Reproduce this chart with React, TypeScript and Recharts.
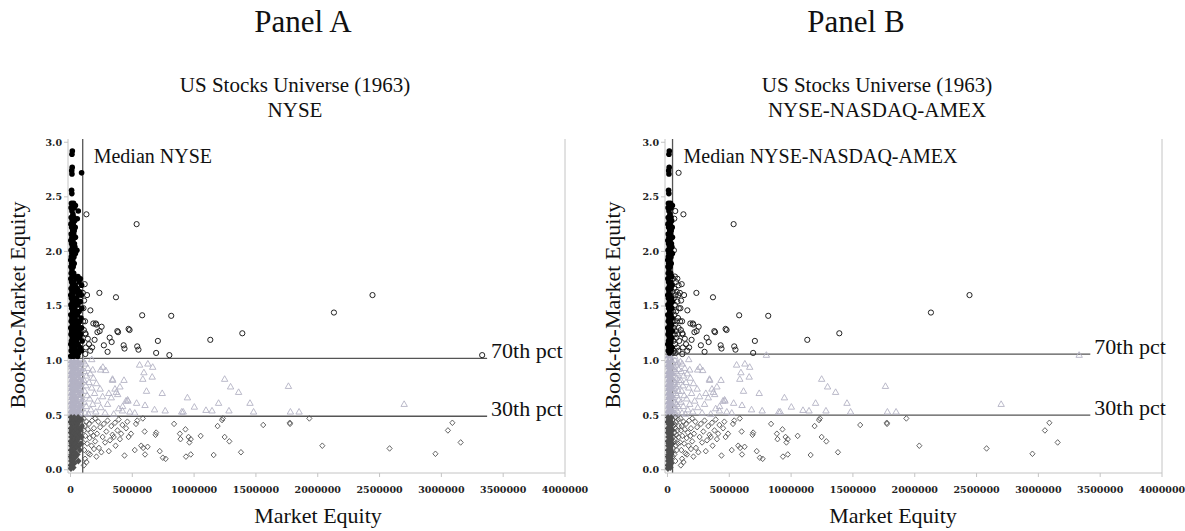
import React from 'react';
import { ScatterChart, Scatter, XAxis, YAxis, ReferenceLine } from 'recharts';

// panel texts
const panelTitles = ['Panel A', 'Panel B'];
const universeTitle = 'US Stocks Universe (1963)';
const exchanges = ['NYSE', 'NYSE-NASDAQ-AMEX'];

// breakpoints
const medians = [99000, 41000];
const pct30 = [0.49, 0.5];
const pct70 = [1.02, 1.06];
const lineEnds = [3370000, 3420000];

const xTicks = [0, 500000, 1000000, 1500000, 2000000, 2500000, 3000000, 3500000, 4000000];
const yTicks = [0, 0.5, 1, 1.5, 2, 2.5, 3];

// [market equity, book-to-market]
const clusterHigh = [
  [15000, 2.92], [12000, 2.89], [14000, 2.77], [10000, 2.74], [12000, 2.71], [90000, 2.72], [9000, 2.56], [11000, 2.53],
  [8000, 2.44], [25000, 2.44], [15000, 2.42], [40000, 2.42], [5000, 2.4], [30000, 2.4], [63000, 2.37], [12000, 2.37],
  [20000, 2.34], [6000, 2.31], [28000, 2.31], [55000, 2.3], [14000, 2.28], [34000, 2.28], [4000, 2.25], [22000, 2.25],
  [10000, 2.22], [38000, 2.22], [18000, 2.19], [30000, 2.19], [6000, 2.16], [26000, 2.16], [12000, 2.13], [40000, 2.13],
  [3000, 2.1], [20000, 2.1], [9000, 2.07], [32000, 2.07], [15000, 2.04], [36000, 2.04], [5000, 2.01], [24000, 2.01], [52000, 2.01],
  [11000, 1.98], [40000, 1.98], [7000, 1.95], [28000, 1.95], [2000, 1.92], [18000, 1.92], [10000, 1.89], [30000, 1.89],
  [4000, 1.86], [22000, 1.86], [12000, 1.83], [6000, 1.8], [26000, 1.8], [14000, 1.77], [34000, 1.77], [60000, 1.77],
  [3000, 1.75], [45000, 1.75], [80000, 1.75], [9000, 1.72], [25000, 1.72], [70000, 1.72], [16000, 1.69], [38000, 1.69], [90000, 1.69],
  [5000, 1.66], [28000, 1.66], [55000, 1.66], [12000, 1.63], [42000, 1.63], [75000, 1.63], [2000, 1.6], [20000, 1.6], [65000, 1.6], [88000, 1.6],
  [8000, 1.57], [33000, 1.57], [50000, 1.57], [15000, 1.54], [40000, 1.54], [80000, 1.54], [4000, 1.51], [25000, 1.51], [60000, 1.51],
  [10000, 1.48], [35000, 1.48], [92000, 1.48], [18000, 1.45], [45000, 1.45], [70000, 1.45], [3000, 1.42], [28000, 1.42], [56000, 1.42],
  [12000, 1.39], [38000, 1.39], [85000, 1.39], [6000, 1.36], [22000, 1.36], [48000, 1.36], [75000, 1.36], [16000, 1.33], [32000, 1.33], [62000, 1.33],
  [2000, 1.3], [26000, 1.3], [52000, 1.3], [90000, 1.3], [10000, 1.27], [40000, 1.27], [68000, 1.27], [5000, 1.24], [20000, 1.24], [58000, 1.24], [82000, 1.24],
  [14000, 1.21], [34000, 1.21], [72000, 1.21], [8000, 1.18], [28000, 1.18], [48000, 1.18], [95000, 1.18], [3000, 1.15], [22000, 1.15], [62000, 1.15],
  [12000, 1.12], [38000, 1.12], [78000, 1.12], [6000, 1.09], [30000, 1.09], [52000, 1.09], [88000, 1.09], [16000, 1.07], [44000, 1.07], [66000, 1.07],
  [2000, 1.04], [24000, 1.04], [58000, 1.04],
];

const clusterMid = [
  [4000, 1.0], [30000, 1.0], [60000, 1.0], [12000, 0.98], [45000, 0.98], [85000, 0.98], [2000, 0.96], [22000, 0.96], [70000, 0.96],
  [8000, 0.94], [36000, 0.94], [55000, 0.94], [16000, 0.92], [50000, 0.92], [90000, 0.92], [5000, 0.9], [28000, 0.9], [65000, 0.9],
  [11000, 0.88], [40000, 0.88], [80000, 0.88], [3000, 0.86], [20000, 0.86], [58000, 0.86], [14000, 0.84], [34000, 0.84], [75000, 0.84],
  [7000, 0.82], [46000, 0.82], [92000, 0.82], [18000, 0.8], [30000, 0.8], [62000, 0.8], [2000, 0.78], [24000, 0.78], [52000, 0.78], [84000, 0.78],
  [10000, 0.76], [38000, 0.76], [70000, 0.76], [6000, 0.74], [28000, 0.74], [56000, 0.74], [15000, 0.72], [44000, 0.72], [88000, 0.72],
  [4000, 0.7], [22000, 0.7], [66000, 0.7], [12000, 0.68], [36000, 0.68], [78000, 0.68], [8000, 0.66], [30000, 0.66], [50000, 0.66],
  [17000, 0.64], [42000, 0.64], [90000, 0.64], [3000, 0.62], [26000, 0.62], [60000, 0.62], [11000, 0.6], [34000, 0.6], [74000, 0.6],
  [6000, 0.58], [48000, 0.58], [86000, 0.58], [14000, 0.56], [28000, 0.56], [64000, 0.56], [2000, 0.54], [38000, 0.54], [80000, 0.54],
  [9000, 0.52], [24000, 0.52], [54000, 0.52], [16000, 0.505], [42000, 0.505], [70000, 0.505],
];

const clusterLow = [
  [5000, 0.48], [30000, 0.48], [62000, 0.48], [13000, 0.46], [44000, 0.46], [86000, 0.46], [2000, 0.44], [24000, 0.44], [70000, 0.44],
  [9000, 0.42], [36000, 0.42], [55000, 0.42], [16000, 0.4], [48000, 0.4], [92000, 0.4], [4000, 0.38], [28000, 0.38], [66000, 0.38],
  [11000, 0.36], [40000, 0.36], [80000, 0.36], [3000, 0.34], [20000, 0.34], [58000, 0.34], [14000, 0.32], [34000, 0.32], [74000, 0.32],
  [7000, 0.3], [46000, 0.3], [90000, 0.3], [18000, 0.28], [30000, 0.28], [60000, 0.28], [2000, 0.26], [24000, 0.26], [52000, 0.26],
  [10000, 0.24], [38000, 0.24], [84000, 0.24], [6000, 0.22], [28000, 0.22], [68000, 0.22], [15000, 0.2], [44000, 0.2],
  [4000, 0.18], [22000, 0.18], [76000, 0.18], [12000, 0.16], [36000, 0.16], [8000, 0.14], [30000, 0.14], [56000, 0.14],
  [3000, 0.12], [18000, 0.12], [42000, 0.12], [10000, 0.1], [26000, 0.1], [5000, 0.08], [20000, 0.08], [64000, 0.08],
  [14000, 0.06], [32000, 0.06], [2000, 0.04], [12000, 0.04], [8000, 0.02], [24000, 0.02], [4000, 0.01],
];

const spreadHigh = [
  [129000, 2.34], [535000, 2.25], [115000, 1.7], [134000, 1.6], [234000, 1.62], [368000, 1.58], [161000, 1.46], [580000, 1.415],
  [815000, 1.41], [1390000, 1.25], [1131000, 1.19], [707000, 1.18], [185000, 1.34], [205000, 1.34], [252000, 1.31], [236000, 1.27],
  [379000, 1.27], [470000, 1.29], [118000, 1.36], [120000, 1.25], [317000, 1.21], [333000, 1.17], [175000, 1.12], [430000, 1.14],
  [437000, 1.11], [540000, 1.13], [550000, 1.1], [123000, 1.24], [218000, 1.26], [385000, 1.26], [478000, 1.28], [693000, 1.07],
  [800000, 1.05], [120000, 1.06], [125000, 1.12], [2131000, 1.44], [2443000, 1.6], [3330000, 1.05], [102000, 1.36], [209000, 1.33],
  [105000, 1.48], [110000, 1.55], [100000, 1.62], [108000, 1.28], [140000, 1.2], [150000, 1.15], [160000, 1.09], [195000, 1.19],
  [270000, 1.14], [300000, 1.08],
];

const spreadMid = [
  [105000, 0.99], [120000, 0.97], [140000, 0.93], [112000, 0.9], [160000, 0.88], [130000, 0.86], [185000, 0.84], [108000, 0.82],
  [150000, 0.8], [210000, 0.79], [125000, 0.77], [172000, 0.75], [240000, 0.74], [115000, 0.72], [195000, 0.7], [135000, 0.68],
  [260000, 0.67], [155000, 0.65], [220000, 0.63], [110000, 0.62], [180000, 0.6], [300000, 0.6], [128000, 0.58], [245000, 0.57],
  [165000, 0.55], [205000, 0.53], [118000, 0.52], [280000, 0.52], [350000, 0.51], [145000, 0.51], [172000, 1.01], [559000, 0.96],
  [626000, 0.97], [665000, 0.94], [594000, 0.89], [585000, 0.83], [661000, 0.85], [433000, 0.82], [340000, 0.83], [244000, 0.915],
  [285000, 0.91], [615000, 0.72], [742000, 0.7], [371000, 0.71], [449000, 0.63], [465000, 0.63], [603000, 0.59], [680000, 0.55],
  [766000, 0.54], [946000, 0.66], [1002000, 0.575], [1096000, 0.545], [1145000, 0.54], [1247000, 0.83], [1295000, 0.76],
  [1360000, 0.71], [1198000, 0.61], [1282000, 0.54], [1452000, 0.61], [1481000, 0.53], [1763000, 0.765], [1779000, 0.53],
  [1849000, 0.53], [2699000, 0.6], [900000, 0.53], [912000, 0.53], [180000, 0.915], [262000, 0.94], [341000, 0.82],
  [382000, 0.69], [462000, 0.64], [422000, 0.58], [535000, 0.61], [360000, 0.74], [400000, 0.76], [330000, 0.66], [310000, 0.7],
  [390000, 0.56], [420000, 0.54], [480000, 0.53], [520000, 0.52],
];

const spreadLow = [
  [838000, 0.42], [930000, 0.37], [885000, 0.33], [955000, 0.3], [973000, 0.28], [962000, 0.25], [890000, 0.28], [1053000, 0.31],
  [934000, 0.12], [973000, 0.14], [1158000, 0.135], [1379000, 0.16], [1247000, 0.3], [1285000, 0.26], [1190000, 0.4], [1226000, 0.455],
  [1233000, 0.47], [1559000, 0.41], [1776000, 0.42], [747000, 0.11], [770000, 0.1], [722000, 0.17], [624000, 0.21], [603000, 0.14],
  [572000, 0.22], [588000, 0.2], [520000, 0.18], [437000, 0.13], [310000, 0.17], [158000, 0.14], [490000, 0.33], [600000, 0.35],
  [688000, 0.32], [693000, 0.34], [530000, 0.42], [540000, 0.45], [585000, 0.47], [1774000, 0.43], [1932000, 0.47], [2037000, 0.22],
  [2581000, 0.195], [2952000, 0.146], [3053000, 0.36], [3089000, 0.43], [3156000, 0.25],
  [105000, 0.47], [130000, 0.44], [115000, 0.4], [150000, 0.42], [175000, 0.45], [200000, 0.47], [225000, 0.44], [110000, 0.36],
  [140000, 0.37], [165000, 0.34], [190000, 0.38], [240000, 0.39], [270000, 0.42], [300000, 0.45], [330000, 0.4], [360000, 0.43],
  [390000, 0.46], [420000, 0.41], [450000, 0.38], [120000, 0.31], [155000, 0.29], [185000, 0.31], [215000, 0.33], [260000, 0.3],
  [290000, 0.35], [340000, 0.32], [380000, 0.36], [410000, 0.33], [460000, 0.44], [102000, 0.25], [135000, 0.24], [170000, 0.22],
  [200000, 0.26], [230000, 0.2], [280000, 0.25], [320000, 0.27], [365000, 0.22], [400000, 0.28], [112000, 0.18], [145000, 0.15],
  [190000, 0.19], [250000, 0.16], [118000, 0.1], [130000, 0.07], [108000, 0.04], [210000, 0.12], [350000, 0.3], [470000, 0.3],
];

const allStocks = [...spreadHigh, ...spreadMid, ...spreadLow, ...clusterHigh, ...clusterMid, ...clusterLow];

const LIGHT = '#b3b2c4';
const DARK = '#4f4f4f';
const AXIS = '#c4c4c4';
const serif = 'Liberation Serif, Times New Roman, serif';
const tickStyle = { fill: '#222', fontSize: 9.5, fontFamily: 'DejaVu Serif', fontWeight: 'bold' };

function splitGroups(median: number, lo: number, hi: number) {
  const g: Record<string, { me: number; bm: number }[]> = {
    bigHigh: [], bigMid: [], bigLow: [], smallHigh: [], smallMid: [], smallLow: [],
  };
  for (const [me, bm] of allStocks) {
    const size = me < median ? 'small' : 'big';
    const band = bm >= hi ? 'High' : bm >= lo ? 'Mid' : 'Low';
    g[size + band].push({ me, bm });
  }
  return g;
}

const openCircle = (p: any) => <circle cx={p.cx} cy={p.cy} r={2.6} fill="none" stroke="#222" strokeWidth={1} />;
const fullCircle = (p: any) => <circle cx={p.cx} cy={p.cy} r={2.8} fill="#000" />;
const openTriangle = (p: any) => (
  <path d={`M${p.cx},${p.cy - 3.4}L${p.cx + 3.2},${p.cy + 2.2}L${p.cx - 3.2},${p.cy + 2.2}Z`} fill="none" stroke={LIGHT} strokeWidth={0.9} />
);
const fullTriangle = (p: any) => (
  <path d={`M${p.cx},${p.cy - 3.6}L${p.cx + 3.4},${p.cy + 2.4}L${p.cx - 3.4},${p.cy + 2.4}Z`} fill={LIGHT} />
);
const openDiamond = (p: any) => (
  <path d={`M${p.cx},${p.cy - 2.8}L${p.cx + 2.6},${p.cy}L${p.cx},${p.cy + 2.8}L${p.cx - 2.6},${p.cy}Z`} fill="none" stroke="#555" strokeWidth={0.9} />
);
const fullDiamond = (p: any) => (
  <path d={`M${p.cx},${p.cy - 3.4}L${p.cx + 3.2},${p.cy}L${p.cx},${p.cy + 3.4}L${p.cx - 3.2},${p.cy}Z`} fill={DARK} />
);

function Panel({ idx, left }: { idx: number; left: number }) {
  const g = splitGroups(medians[idx], pct30[idx], pct70[idx]);
  const pctLabel = (text: string) => (p: any) => (
    <text x={p.viewBox.x + p.viewBox.width + 4} y={p.viewBox.y} fontFamily={serif} fontSize={22} fill="#111">
      {text}
    </text>
  );
  return (
    <div style={{ position: 'absolute', left, top: 0 }}>
      <ScatterChart width={590} height={531} margin={{ top: 139, right: 25, bottom: 28, left: 8 }}>
        <XAxis
          type="number"
          dataKey="me"
          domain={[-20000, 4000000]}
          ticks={xTicks}
          interval={0}
          height={30}
          tickSize={4}
          tickMargin={9}
          stroke={AXIS}
          tick={tickStyle}
          allowDataOverflow
        />
        <YAxis
          type="number"
          dataKey="bm"
          domain={[-0.03, 3.03]}
          ticks={yTicks}
          interval={0}
          width={60}
          tickSize={4}
          tickFormatter={(v: number) => v.toFixed(1)}
          stroke={AXIS}
          tick={tickStyle}
          allowDataOverflow
        />
        <ReferenceLine x={4000000} stroke={AXIS} />
        <Scatter data={g.bigMid} shape={openTriangle} isAnimationActive={false} />
        <Scatter data={g.bigLow} shape={openDiamond} isAnimationActive={false} />
        <Scatter data={g.bigHigh} shape={openCircle} isAnimationActive={false} />
        <Scatter data={g.smallMid} shape={fullTriangle} isAnimationActive={false} />
        <Scatter data={g.smallLow} shape={fullDiamond} isAnimationActive={false} />
        <Scatter data={g.smallHigh} shape={fullCircle} isAnimationActive={false} />
        <ReferenceLine
          x={medians[idx]}
          stroke="#555"
          strokeWidth={1.3}
          label={(p: any) => (
            <text x={p.viewBox.x + 11} y={p.viewBox.y + 24} fontFamily={serif} fontSize={20} fill="#111">
              {`Median ${exchanges[idx]}`}
            </text>
          )}
        />
        <ReferenceLine
          segment={[{ x: -20000, y: pct70[idx] }, { x: lineEnds[idx], y: pct70[idx] }]}
          stroke="#555"
          strokeWidth={1.3}
          label={pctLabel('70th pct')}
        />
        <ReferenceLine
          segment={[{ x: -20000, y: pct30[idx] }, { x: lineEnds[idx], y: pct30[idx] }]}
          stroke="#555"
          strokeWidth={1.3}
          label={pctLabel('30th pct')}
        />
      </ScatterChart>
    </div>
  );
}

export default function App() {
  return (
    <div style={{ position: 'absolute', left: 0, top: 0, width: 1185, height: 531, background: '#fff' }}>
      <Panel idx={0} left={0} />
      <Panel idx={1} left={597} />
      <svg width={1185} height={531} style={{ position: 'absolute', left: 0, top: 0, pointerEvents: 'none' }}>
        <g fontFamily={serif} fill="#111" textAnchor="middle">
          <text x={303} y={32} fontSize={31}>{panelTitles[0]}</text>
          <text x={856} y={32} fontSize={31}>{panelTitles[1]}</text>
          <text x={295} y={92} fontSize={21}>{universeTitle}</text>
          <text x={295} y={117} fontSize={21}>{exchanges[0]}</text>
          <text x={877} y={92} fontSize={21}>{universeTitle}</text>
          <text x={877} y={117} fontSize={21}>{exchanges[1]}</text>
          <text x={318} y={523} fontSize={22}>Market Equity</text>
          <text x={893} y={523} fontSize={22}>Market Equity</text>
          <text transform="translate(25,305) rotate(-90)" fontSize={22}>Book-to-Market Equity</text>
          <text transform="translate(620,305) rotate(-90)" fontSize={22}>Book-to-Market Equity</text>
        </g>
      </svg>
    </div>
  );
}
